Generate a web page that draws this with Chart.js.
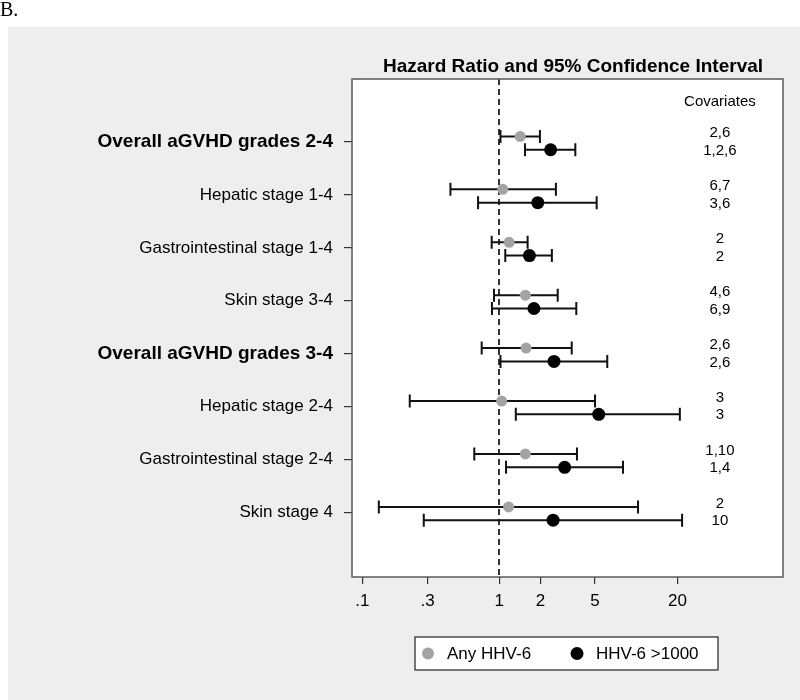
<!DOCTYPE html>
<html>
<head>
<meta charset="utf-8">
<script src="https://cdn.jsdelivr.net/npm/chart.js@4.4.1/dist/chart.umd.min.js"></script>
<style>
html,body{margin:0;padding:0;background:#fff;}
#wrap{width:800px;height:700px;position:relative;}
</style>
</head>
<body>
<div id="wrap"><canvas id="c" width="800" height="700"></canvas></div>
<script>
// ---- data ----
const outcomes = [
  "Overall aGVHD grades 2-4",
  "Hepatic stage 1-4",
  "Gastrointestinal stage 1-4",
  "Skin stage 3-4",
  "Overall aGVHD grades 3-4",
  "Hepatic stage 2-4",
  "Gastrointestinal stage 2-4",
  "Skin stage 4"
];
const boldRows = [0, 4];
const seriesNames = ["Any HHV-6", "HHV-6 >1000"];
const anyHR  = [1.42, 1.06, 1.18, 1.55, 1.57, 1.04, 1.55, 1.17];
const anyLo  = [1.02, 0.44, 0.88, 0.915, 0.744, 0.222, 0.657, 0.132];
const anyHi  = [1.98, 2.59, 1.61, 2.67, 3.38, 5.0, 3.69, 10.3];
const hiHR   = [2.37, 1.91, 1.66, 1.79, 2.51, 5.32, 3.0, 2.47];
const hiLo   = [1.54, 0.70, 1.106, 0.884, 1.02, 1.32, 1.12, 0.281];
const hiHi   = [3.59, 5.14, 2.42, 3.65, 6.14, 20.8, 8.0, 21.6];
const anyCov = ["2,6", "6,7", "2", "4,6", "2,6", "3", "1,10", "2"];
const hiCov  = ["1,2,6", "3,6", "2", "6,9", "2,6", "3", "1,4", "10"];
const xTicks = [0.1, 0.3, 1, 2, 5, 20];
const xTickLabels = [".1", ".3", "1", "2", "5", "20"];
const titleText = "Hazard Ratio and 95% Confidence Interval";
const covHeader = "Covariates";

const FONT = "'Liberation Sans', Arial, Helvetica, sans-serif";
const GRAY = "#a3a3a3";
const BLACK = "#000000";
const OFF_ANY = -0.105, OFF_HI = 0.147;

function mk(hr, lo, hi, off) {
  return hr.map((v, i) => ({x: v, y: i + off, lo: lo[i], hi: hi[i]}));
}

const bgPlugin = {
  id: 'bg',
  beforeDraw(chart) {
    const c = chart.ctx, a = chart.chartArea;
    c.save();
    c.fillStyle = '#ffffff';
    c.fillRect(0, 0, chart.width, chart.height);
    c.fillStyle = '#eeeeee';
    c.fillRect(8, 27, chart.width - 8, chart.height - 27);
    c.fillStyle = '#ffffff';
    c.fillRect(a.left, a.top, a.right - a.left, a.bottom - a.top);
    c.fillStyle = '#000';
    c.font = "20px 'Liberation Serif', 'Times New Roman', serif";
    c.textAlign = 'left';
    c.textBaseline = 'alphabetic';
    c.fillText('B.', 0, 16);
    c.restore();
  }
};

const forestPlugin = {
  id: 'forest',
  beforeDatasetsDraw(chart) {
    const c = chart.ctx, a = chart.chartArea;
    const xs = chart.scales.x, ys = chart.scales.y;
    c.save();
    // reference line at HR = 1
    c.strokeStyle = '#333333';
    c.lineWidth = 2;
    c.setLineDash([6, 4]);
    const x1 = Math.round(xs.getPixelForValue(1)) ;
    c.beginPath();
    c.moveTo(x1, a.top);
    c.lineTo(x1, a.bottom);
    c.stroke();
    c.setLineDash([]);
    // error bars
    c.strokeStyle = '#111';
    c.lineWidth = 2;
    chart.data.datasets.forEach(ds => {
      ds.data.forEach(p => {
        const y = ys.getPixelForValue(p.y);
        const xl = xs.getPixelForValue(p.lo), xh = xs.getPixelForValue(p.hi);
        c.beginPath();
        c.moveTo(xl, y); c.lineTo(xh, y);
        c.moveTo(xl, y - 6.5); c.lineTo(xl, y + 6.5);
        c.moveTo(xh, y - 6.5); c.lineTo(xh, y + 6.5);
        c.stroke();
      });
    });
    c.restore();
  },
  afterDraw(chart) {
    const c = chart.ctx, a = chart.chartArea;
    const xs = chart.scales.x, ys = chart.scales.y;
    c.save();
    // frame
    c.strokeStyle = '#5a5a5a';
    c.lineWidth = 1.5;
    c.strokeRect(a.left, a.top, a.right - a.left, a.bottom - a.top);
    // title
    c.fillStyle = '#000';
    c.font = "bold 19px " + FONT;
    c.textAlign = 'center';
    c.textBaseline = 'alphabetic';
    c.fillText(titleText, 573, 72);
    // covariates
    const cx = xs.getPixelForValue(40.8);
    c.font = "15px " + FONT;
    c.textBaseline = 'middle';
    c.fillText(covHeader, cx, ys.getPixelForValue(-0.76));
    outcomes.forEach((_, i) => {
      c.fillText(anyCov[i], cx, ys.getPixelForValue(i - 0.17));
      c.fillText(hiCov[i], cx, ys.getPixelForValue(i + 0.165));
    });
    // legend
    const lx = 415, ly = 637, lw = 303, lh = 33;
    c.fillStyle = '#fff';
    c.fillRect(lx, ly, lw, lh);
    c.strokeStyle = '#222';
    c.lineWidth = 1.2;
    c.strokeRect(lx, ly, lw, lh);
    const my = ly + lh / 2;
    c.fillStyle = GRAY;
    c.beginPath(); c.arc(428, my, 6, 0, Math.PI * 2); c.fill();
    c.fillStyle = BLACK;
    c.beginPath(); c.arc(577, my, 6.5, 0, Math.PI * 2); c.fill();
    c.font = "17px " + FONT;
    c.textAlign = 'left';
    c.fillStyle = '#000';
    c.fillText(chart.data.datasets[0].label, 447, my + 1);
    c.fillText(chart.data.datasets[1].label, 596, my + 1);
    c.restore();
  }
};

new Chart(document.getElementById('c'), {
  type: 'scatter',
  data: {
    datasets: [
      {label: seriesNames[0], data: mk(anyHR, anyLo, anyHi, OFF_ANY),
       backgroundColor: GRAY, borderColor: GRAY, pointRadius: 5.5, pointBorderWidth: 0},
      {label: seriesNames[1], data: mk(hiHR, hiLo, hiHi, OFF_HI),
       backgroundColor: BLACK, borderColor: BLACK, pointRadius: 6.5, pointBorderWidth: 0}
    ]
  },
  options: {
    responsive: false,
    animation: false,
    devicePixelRatio: 1,
    layout: {padding: {top: 79, right: 17, bottom: 0, left: 0}},
    plugins: {legend: {display: false}, tooltip: {enabled: false}, title: {display: false}},
    scales: {
      x: {
        type: 'logarithmic',
        min: 0.0841,
        max: 117.8,
        afterBuildTicks(s) { s.ticks = xTicks.map(v => ({value: v})); },
        afterFit(s) { s.height = 123; },
        ticks: {
          autoSkip: false, maxRotation: 0, padding: 7,
          color: '#000',
          font: {family: FONT, size: 17},
          callback(v) { const i = xTicks.indexOf(v); return i >= 0 ? xTickLabels[i] : ''; }
        },
        grid: {drawOnChartArea: false, drawTicks: true, tickLength: 7, color: '#333', lineWidth: 1.2},
        border: {display: false}
      },
      y: {
        type: 'linear',
        reverse: true,
        min: -1.19,
        max: 8.22,
        afterBuildTicks(s) { s.ticks = outcomes.map((_, i) => ({value: i})); },
        afterFit(s) { s.width = 352; },
        ticks: {
          autoSkip: false, padding: 11, color: '#000',
          font(ctx) {
            const b = ctx.tick && boldRows.includes(ctx.tick.value);
            return {family: FONT, size: b ? 19 : 17, weight: b ? 'bold' : 'normal'};
          },
          callback(v) { return outcomes[v] !== undefined ? outcomes[v] : ''; }
        },
        grid: {drawOnChartArea: false, drawTicks: true, tickLength: 8, color: '#333', lineWidth: 1.2},
        border: {display: false}
      }
    }
  },
  plugins: [bgPlugin, forestPlugin]
});
</script>
</body>
</html>
